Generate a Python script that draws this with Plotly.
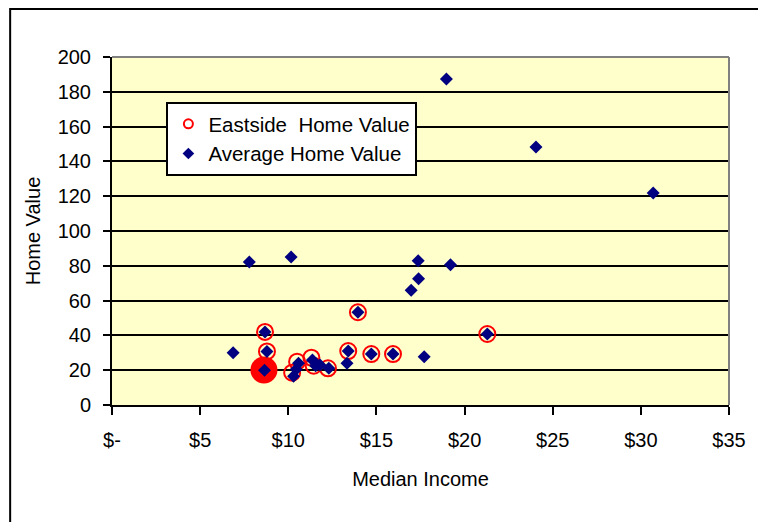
import plotly.graph_objects as go

# Eastside Home Value (open red circles)
east_x = [8.68, 8.79, 10.5, 10.22, 11.31, 11.44, 12.25, 13.4, 13.95, 14.71, 15.94, 21.29]
east_y = [42.0, 30.8, 24.9, 18.6, 27.2, 22.6, 21.1, 31.0, 53.3, 29.3, 29.3, 40.8]
# Highlighted Eastside point (large filled circle)
hi_x = [8.62]
hi_y = [20.1]

# Average Home Value (navy diamonds)
avg_x = [18.97, 24.05, 30.7, 7.79, 10.16, 17.37, 19.2, 17.39, 16.97, 6.87,
         8.68, 8.79, 8.65, 10.3, 10.45, 10.58, 11.37, 11.55, 11.8, 12.3,
         13.4, 13.33, 13.95, 14.71, 15.94, 17.71, 21.29]
avg_y = [187.4, 148.3, 121.8, 82.2, 85.0, 82.9, 80.6, 72.6, 66.0, 30.1,
         42.0, 30.8, 20.0, 16.5, 20.5, 24.0, 25.8, 22.5, 23.0, 21.1,
         31.0, 24.0, 53.3, 29.3, 29.3, 27.8, 40.8]

x_tickvals = [0, 5, 10, 15, 20, 25, 30, 35]
x_ticktext = ["$-", "$5", "$10", "$15", "$20", "$25", "$30", "$35"]
y_tickvals = [0, 20, 40, 60, 80, 100, 120, 140, 160, 180, 200]

RED = "#FF0000"
NAVY = "#000080"
FONT = "Liberation Sans, Arial, sans-serif"

fig = go.Figure()

fig.add_trace(go.Scatter(
    x=east_x, y=east_y, mode="markers", showlegend=False, hoverinfo="skip",
    marker=dict(symbol="circle-open", size=16, color=RED, line=dict(width=2, color=RED)),
))
fig.add_trace(go.Scatter(
    x=hi_x, y=hi_y, mode="markers", showlegend=False, hoverinfo="skip",
    marker=dict(symbol="circle", size=27, color=RED, line=dict(width=0)),
))
fig.add_trace(go.Scatter(
    x=avg_x, y=avg_y, mode="markers", showlegend=False, hoverinfo="skip",
    marker=dict(symbol="diamond", size=10, color=NAVY, line=dict(width=0)),
))
# legend entries
fig.add_trace(go.Scatter(
    x=[None], y=[None], mode="markers", name="Eastside\u00a0 Home Value",
    marker=dict(symbol="circle-open", size=9, color=RED, line=dict(width=2, color=RED)),
))
fig.add_trace(go.Scatter(
    x=[None], y=[None], mode="markers", name="Average Home Value",
    marker=dict(symbol="diamond", size=9, color=NAVY),
))

L, R, T, B = 112, 22, 57, 117
W, H = 758, 522
pw = W - L - R
ph = H - T - B

fig.update_layout(
    width=W, height=H,
    margin=dict(l=L, r=R, t=T, b=B, pad=0),
    paper_bgcolor="white",
    plot_bgcolor="#FFFFCC",
    font=dict(family=FONT, size=20, color="black"),
    legend=dict(
        x=(167 - L) / pw, y=1 - (102 - T) / ph, xanchor="left", yanchor="top",
        bgcolor="white", bordercolor="black", borderwidth=2,
        font=dict(size=20.5), tracegroupgap=0, itemwidth=30,
    ),
    xaxis=dict(
        range=[0, 35], tickvals=x_tickvals, ticktext=x_ticktext,
        showgrid=False, zeroline=False,
        showline=True, linecolor="black", linewidth=2,
        ticks="outside", ticklen=8, tickwidth=2, tickcolor="black",
        ticklabelstandoff=8,
        title=dict(text="Median Income", standoff=22, font=dict(size=20)),
        tickfont=dict(size=20),
    ),
    yaxis=dict(
        range=[0, 200], tickvals=y_tickvals,
        showgrid=True, gridcolor="black", gridwidth=1.6, zeroline=False,
        showline=True, linecolor="black", linewidth=2,
        ticks="outside", ticklen=7, tickwidth=2, tickcolor="black",
        ticklabelstandoff=8,
        title=dict(text="Home Value", standoff=12, font=dict(size=20)),
        tickfont=dict(size=20),
    ),
    shapes=[
        # grey plot-area border on top and right
        dict(type="line", xref="paper", yref="paper", x0=0, x1=1, y0=1, y1=1,
             line=dict(color="#808080", width=2)),
        dict(type="line", xref="paper", yref="paper", x0=1, x1=1, y0=0, y1=1,
             line=dict(color="#808080", width=2)),
        # outer chart border
        dict(type="rect", xref="paper", yref="paper",
             x0=(9 - L) / pw, x1=(W + 20 - L) / pw,
             y0=-(H + 20 - T - ph) / ph, y1=1 + (T - 9) / ph,
             line=dict(color="black", width=2), layer="below"),
    ],
)

fig.write_html("out.html")
